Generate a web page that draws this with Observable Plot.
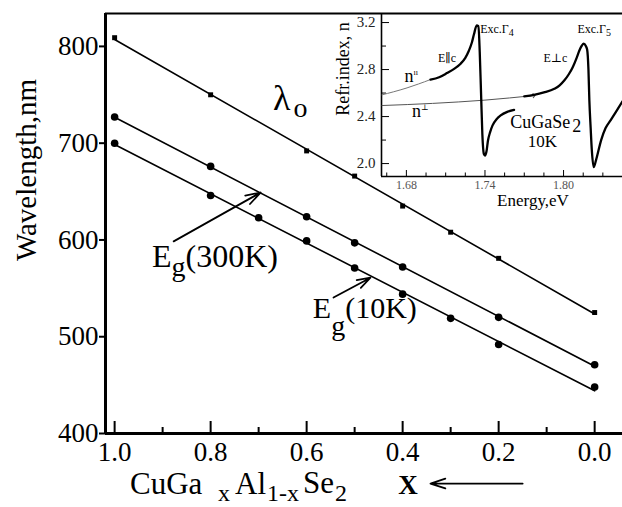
<!DOCTYPE html>
<html><head><meta charset="utf-8">
<script src="https://cdn.jsdelivr.net/npm/d3@7"></script>
<script src="https://cdn.jsdelivr.net/npm/@observablehq/plot@0.6"></script>
<style>
body{margin:0;background:#fff;}
#wrap{position:relative;width:622px;height:507px;overflow:hidden;background:#fff;}
#wrap svg{position:absolute;overflow:visible;}
</style></head><body><div id="wrap"></div>
<script>
const FONT = "'Liberation Serif', Tinos, 'Times New Roman', Times, 'DejaVu Serif', serif";

// ---- main chart data ----
const lambdaX = [1.0, 0.8, 0.6, 0.5, 0.4, 0.3, 0.2, 0.0];
const lambdaY = [809, 750, 692, 666, 635, 608, 581, 525];
const eg300X = [1.0, 0.8, 0.6, 0.5, 0.4, 0.2, 0.0];
const eg300Y = [727, 676, 624, 597, 572, 520, 471];
const eg10X = [1.0, 0.8, 0.7, 0.6, 0.5, 0.4, 0.3, 0.2, 0.0];
const eg10Y = [700, 646, 623, 599, 571, 544, 519, 492, 448];
const xTickLabels = [1.0, 0.8, 0.6, 0.4, 0.2, 0.0];
const xMinorTicks = [0.9, 0.7, 0.5, 0.3, 0.1];
const yTickLabels = [400, 500, 600, 700, 800];
const xDomain = [1.019, -0.058];
const yDomain = [400, 834];

// ---- inset data (CuGaSe2, 10K) ----
const parThinE = [1.6614, 1.6700, 1.6805, 1.6892, 1.6984];
const parThinN = [2.585, 2.610, 2.644, 2.677, 2.715];
const parE = [1.6984,1.705,1.711,1.717,1.7214,1.725,1.7277,1.7300,1.7316,1.7337,1.7350,1.7360,1.7370,1.7380,1.7392,1.7400,1.7411,1.7423,1.7440,1.7457,1.7490,1.7520,1.7570,1.7622];
const parN = [2.715,2.735,2.770,2.810,2.850,2.900,2.960,3.030,3.100,3.175,3.170,2.950,2.600,2.250,2.080,2.068,2.100,2.196,2.270,2.323,2.380,2.410,2.440,2.457];
const perpThinE = [1.6614, 1.7000, 1.7400, 1.7775];
const perpThinN = [2.494, 2.512, 2.540, 2.579];
const perpE = [1.7700,1.7775,1.785,1.793,1.797,1.8005,1.804,1.807,1.810,1.812,1.814,1.8154,1.817,1.818,1.819,1.8197,1.8207,1.8216,1.823,1.8248,1.8287,1.832,1.836,1.840,1.845];
const perpN = [2.572,2.585,2.605,2.636,2.665,2.706,2.760,2.820,2.900,2.960,3.005,3.020,3.000,2.970,2.800,2.536,2.300,2.110,1.970,2.030,2.200,2.300,2.370,2.440,2.530];
const insetXLabels = [1.68, 1.74, 1.80];
const insetXMinor = [1.665, 1.695, 1.71, 1.725, 1.755, 1.77, 1.785, 1.815, 1.83, 1.845];
const insetYLabels = [2.0, 2.4, 2.8, 3.2];
const insetYMinor = [2.2, 2.6, 3.0];
const insetXDomain = [1.661, 1.845];
const insetYDomain = [1.89, 3.277];

const rows = (xs, ys) => xs.map((x, i) => ({x, y: ys[i]}));
const lambda = rows(lambdaX, lambdaY);
const eg300 = rows(eg300X, eg300Y);
const eg10 = rows(eg10X, eg10Y);

// annotation arrows (data coordinates)
const arrows = [
  {x1: 0.877, y1: 598.5, x2: 0.696, y2: 649},
  {x1: 0.544, y1: 540.5, x2: 0.467, y2: 561},
  {x1: 0.150, y1: 348.3, x2: 0.342, y2: 348.3}
];

const W = 622, H = 507;
const mL = 105, mT = 13, mB = 74, mR = 0;
const fw = W - mL - mR, fh = H - mT - mB;

const main = Plot.plot({
  width: W, height: H,
  marginLeft: mL, marginTop: mT, marginRight: mR, marginBottom: mB,
  x: {domain: xDomain},
  y: {domain: yDomain},
  style: {fontFamily: FONT, fontSize: "27px", color: "black", background: "transparent"},
  marks: [
    Plot.ruleX([xDomain[0]], {strokeWidth: 3}),
    Plot.ruleY([yDomain[0]], {strokeWidth: 3}),
    Plot.ruleY([yDomain[1]], {strokeWidth: 2}),
    Plot.tickX(xTickLabels, {x: d => d, insetTop: fh - 12, strokeWidth: 2}),
    Plot.tickX(xMinorTicks, {x: d => d, insetTop: fh - 6, strokeWidth: 2}),
    Plot.tickY(yTickLabels, {y: d => d, insetRight: fw - 6, dx: -6, strokeWidth: 2}),
    Plot.axisX({ticks: xTickLabels, tickFormat: d3.format(".1f"), tickSize: 0, tickPadding: 8, label: null, fontSize: 27, fontFamily: FONT}),
    Plot.axisY({ticks: yTickLabels, tickSize: 0, tickPadding: 7, label: null, fontSize: 27, fontFamily: FONT}),
    Plot.linearRegressionY(lambda, {x: "x", y: "y", ci: 0, stroke: "black", strokeWidth: 1.6}),
    Plot.linearRegressionY(eg300, {x: "x", y: "y", ci: 0, stroke: "black", strokeWidth: 1.6}),
    Plot.linearRegressionY(eg10, {x: "x", y: "y", ci: 0, stroke: "black", strokeWidth: 1.6}),
    Plot.dot(lambda, {x: "x", y: "y", symbol: "square", r: 2.8, fill: "black"}),
    Plot.dot(eg300, {x: "x", y: "y", r: 3.8, fill: "black"}),
    Plot.dot(eg10, {x: "x", y: "y", r: 3.8, fill: "black"}),
    Plot.arrow(arrows, {x1: "x1", y1: "y1", x2: "x2", y2: "y2", stroke: "black", strokeWidth: 1.8, headLength: 13, headAngle: 36})
  ]
});
document.getElementById("wrap").appendChild(main);
main.style.left = "0px"; main.style.top = "0px";
d3.select(main).selectAll("text").attr("font-family", FONT);

function rich(svg, x, y, parts, opts = {}) {
  const t = d3.select(svg).append("text")
    .attr("x", x).attr("y", y)
    .attr("font-family", FONT)
    .attr("fill", opts.fill || "black")
    .attr("text-anchor", opts.anchor || "start");
  if (opts.weight) t.attr("font-weight", opts.weight);
  if (opts.transform) t.attr("transform", opts.transform);
  for (const p of parts) {
    const ts = t.append("tspan").text(p.t).attr("font-size", p.size);
    if (p.x != null) ts.attr("x", p.x);
    if (p.dx) ts.attr("dx", p.dx);
    if (p.dy) ts.attr("dy", p.dy);
  }
  return t;
}

const sx = v => main.scale("x").apply(v);
const sy = v => main.scale("y").apply(v);

// lambda_o label
rich(main, sx(0.669), sy(734), [{t: "λ", size: 36}, {t: "o", size: 28, dy: 7, dx: 3}]);
// Eg(300K)
rich(main, sx(0.921), sy(571.5), [{t: "E", size: 32}, {t: "g", size: 28, dy: 9}, {t: "(300K)", size: 32, dy: -9}]);
// Eg(10K)
rich(main, sx(0.586), sy(518.8), [{t: "E", size: 30}, {t: "g", size: 28, dy: 17}, {t: "(10K)", size: 30, dy: -17}]);
// Y axis title
rich(main, 0, 0, [{t: "Wavelength,nm", size: 29}], {anchor: "middle", transform: "translate(36,170) rotate(-90)"});
// X axis title
rich(main, 130, 494, [
  {t: "CuGa", size: 31},
  {t: "x", size: 24, x: 218, dy: 7},
  {t: "Al", size: 31, x: 235, dy: -7},
  {t: "1-x", size: 24, x: 267, dy: 7},
  {t: "Se", size: 31, x: 303, dy: -8},
  {t: "2", size: 24, x: 335, dy: 8}
]);
rich(main, 408, 494, [{t: "X", size: 27}], {anchor: "middle", weight: "bold"});

// ---- inset ----
const IW = 292, IH = 212, iL = 51, iT = 13, iB = 36, iR = 0;
const ifw = IW - iL - iR, ifh = IH - iT - iB;
const inset = Plot.plot({
  width: IW, height: IH,
  marginLeft: iL, marginTop: iT, marginRight: iR, marginBottom: iB,
  x: {domain: insetXDomain},
  y: {domain: insetYDomain},
  style: {fontFamily: FONT, fontSize: "12px", color: "black", background: "transparent"},
  marks: [
    Plot.ruleX([insetXDomain[0]], {strokeWidth: 1.6}),
    Plot.ruleY([insetYDomain[0]], {strokeWidth: 1.6}),
    Plot.tickX(insetXLabels, {x: d => d, insetTop: ifh - 6, strokeWidth: 1}),
    Plot.tickX(insetXMinor, {x: d => d, insetTop: ifh - 3.5, strokeWidth: 1}),
    Plot.tickY(insetYLabels, {y: d => d, insetRight: ifw - 8, strokeWidth: 1}),
    Plot.tickY(insetYMinor, {y: d => d, insetRight: ifw - 5, strokeWidth: 1}),
    Plot.axisX({ticks: insetXLabels, tickFormat: d3.format(".2f"), tickSize: 0, tickPadding: 4, label: null, fontSize: 12, fill: "#555", fontFamily: FONT}),
    Plot.axisY({ticks: insetYLabels, tickFormat: d3.format(".1f"), tickSize: 0, tickPadding: 6, label: null, fontSize: 15, fill: "#222", fontFamily: FONT}),
    Plot.line(rows(perpThinE, perpThinN), {x: "x", y: "y", stroke: "#555", strokeWidth: 1, curve: "monotone-x", markerEnd: "arrow"}),
    Plot.line(rows(parThinE, parThinN), {x: "x", y: "y", stroke: "#777", strokeWidth: 1, curve: "monotone-x"}),
    Plot.line(rows(parE, parN), {x: "x", y: "y", stroke: "black", strokeWidth: 2.3, curve: "monotone-x"}),
    Plot.line(rows(perpE, perpN), {x: "x", y: "y", stroke: "black", strokeWidth: 2.3, curve: "monotone-x"})
  ]
});
document.getElementById("wrap").appendChild(inset);
inset.style.left = "330px"; inset.style.top = "0px";
d3.select(inset).selectAll("text").attr("font-family", FONT);
const ix = v => inset.scale("x").apply(v);
const iy = v => inset.scale("y").apply(v);

rich(inset, ix(1.7367), iy(3.106), [{t: "Exc.Γ", size: 12}, {t: "4", size: 10, dy: 3}]);
rich(inset, ix(1.811), iy(3.106), [{t: "Exc.Γ", size: 12}, {t: "5", size: 10, dy: 3}]);
rich(inset, ix(1.7045), iy(2.86), [{t: "E∥c", size: 12}]);
rich(inset, ix(1.785), iy(2.86), [{t: "E⊥c", size: 12}]);
rich(inset, ix(1.679), iy(2.69), [{t: "n", size: 18}, {t: "ıı", size: 8, dy: -7}]);
rich(inset, ix(1.6846), iy(2.39), [{t: "n", size: 18}, {t: "⊥", size: 8, dy: -7}]);
rich(inset, ix(1.7597), iy(2.298), [{t: "CuGaSe", size: 18}, {t: "2", size: 18, dy: 4, dx: 2}]);
rich(inset, ix(1.7842), iy(2.136), [{t: "10K", size: 17}], {anchor: "middle"});
rich(inset, 203, 206, [{t: "Energy,eV", size: 17}], {anchor: "middle"});
rich(inset, 0, 0, [{t: "Refr.index, n", size: 18}], {anchor: "middle", transform: "translate(19,69) rotate(-90)"});
</script>
</body></html>
